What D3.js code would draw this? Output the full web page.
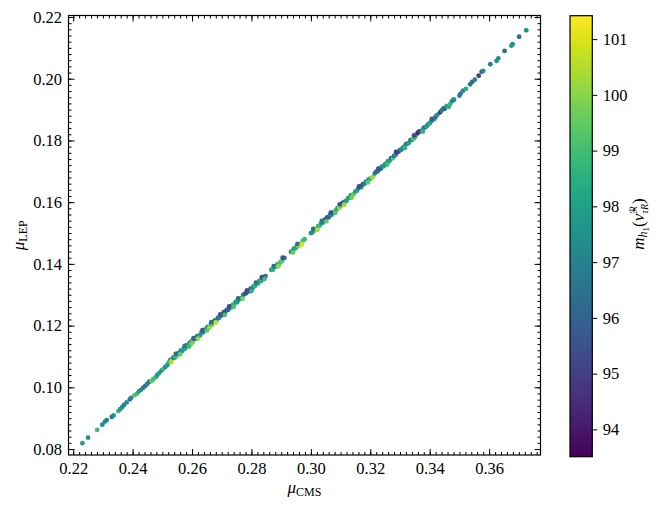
<!DOCTYPE html>
<html><head><meta charset="utf-8">
<script src="https://cdn.jsdelivr.net/npm/d3@7"></script>
<style>body{margin:0;background:#fff}svg{display:block}text{font-family:'Liberation Serif','DejaVu Serif',serif;fill:#000}</style>
</head><body><svg id="c" width="665" height="510"></svg>
<script>
// mu_CMS (x), mu_LEP (y), m_h1 (colour)
const muCMS = [
0.2231,0.2250,0.2281,0.2298,0.2307,0.2313,0.2330,0.2336,0.2352,0.2358,0.2365,0.2371,0.2380,0.2391,0.2395,0.2406,0.2414,0.2421,0.2428,0.2436,0.2443,0.2449,0.2456,0.2463,0.2470,0.2478,0.2483,0.2490,0.2498,0.2503,0.2510,0.2517,0.2522,
0.2527,0.2529,0.2532,0.2537,0.2542,0.2547,0.2552,0.2557,0.2562,0.2567,0.2572,0.2577,0.2582,0.2587,0.2592,0.2597,0.2599,0.2602,0.2607,0.2612,0.2617,0.2622,0.2627,0.2632,0.2637,0.2642,0.2647,0.2652,0.2657,0.2662,0.2664,0.2667,0.2672,0.2677,0.2682,0.2687,0.2692,0.2697,0.2702,0.2707,0.2712,0.2717,0.2722,0.2727,0.2732,0.2737,0.2742,0.2747,0.2752,0.2757,0.2762,0.2767,0.2772,0.2777,0.2782,0.2787,0.2792,0.2797,0.2802,0.2807,0.2812,0.2817,0.2822,
0.2827,0.2832,0.2837,0.2842,0.2847,
0.2867,0.2872,0.2877,0.2882,0.2887,0.2892,0.2897,0.2902,0.2907,0.2911,
0.2933,0.2938,0.2943,0.2948,0.2953,0.2958,0.2963,0.2968,0.2973,0.2979,
0.3000,0.3005,0.3010,0.3015,0.3020,0.3025,0.3030,0.3035,0.3040,0.3045,0.3050,0.3055,0.3060,0.3065,0.3070,0.3075,0.3080,0.3085,0.3090,0.3095,0.3100,0.3105,0.3110,0.3115,0.3120,
0.3125,0.3130,0.3135,0.3140,0.3145,0.3150,0.3155,0.3160,0.3165,0.3170,
0.3175,0.3180,0.3185,0.3190,0.3195,0.3200,0.3205,0.3210,0.3215,0.3220,
0.3225,0.3230,0.3235,0.3240,0.3245,0.3250,0.3255,0.3260,0.3265,0.3270,
0.3275,0.3280,0.3285,0.3290,0.3295,0.3300,0.3305,0.3310,0.3315,0.3320,
0.3325,0.3330,0.3335,0.3340,0.3345,0.3350,0.3355,0.3360,0.3365,0.3370,
0.3375,0.3380,0.3385,0.3390,0.3395,0.3400,0.3405,0.3410,0.3415,0.3420,
0.3426,0.3435,0.3440,0.3446,0.3450,0.3457,0.3464,0.3468,0.3474,0.3479,0.3482,0.3500,0.3504,0.3512,0.3522,0.3536,0.3543,0.3552,0.3565,0.3575,0.3580,0.3604,0.3625,0.3631,0.3652,0.3675,0.3679,0.3701,0.3725,
// edge points of the band
0.2545,0.2560,0.2575,0.2590,0.2605,0.2620,0.2635,0.2650,0.2665,0.2680,0.2695,0.2710,0.2725,0.2740,0.2755,0.2770,0.2785,0.2800,0.2815,
0.2835,0.2844,0.2875,0.2890,0.2905,0.2940,0.2955,0.2970,0.3008,0.3022,0.3037,0.3052,0.3067,0.3082,0.3097,0.3112,
0.3137,0.3162,0.3192,0.3227,0.3257,0.3287,0.3317,0.3347,0.3377,0.3407
];
const muLEP = [
0.0819,0.0837,0.0862,0.0879,0.0889,0.0894,0.0904,0.0909,0.0923,0.0929,0.0936,0.0943,0.0951,0.0961,0.0966,0.0974,0.0979,0.0987,0.0992,0.0999,0.1005,0.1011,0.1018,0.1020,0.1027,0.1033,0.1040,0.1047,0.1055,0.1059,0.1066,0.1072,0.1081,
0.1089,0.1082,0.1086,0.1096,0.1096,0.1100,0.1110,0.1110,0.1119,0.1118,0.1125,0.1126,0.1136,0.1135,0.1144,0.1141,0.1150,0.1146,0.1157,0.1157,0.1166,0.1166,0.1169,0.1179,0.1178,0.1186,0.1187,0.1196,0.1193,0.1197,0.1205,0.1203,0.1212,0.1217,0.1216,0.1225,0.1226,0.1234,0.1234,0.1244,0.1245,0.1251,0.1251,0.1260,0.1259,0.1267,0.1268,0.1277,0.1276,0.1285,0.1287,0.1289,0.1299,0.1303,0.1305,0.1311,0.1311,0.1320,0.1319,0.1327,0.1328,0.1337,0.1336,
0.1345,0.1344,0.1355,0.1357,0.1360,
0.1381,0.1381,0.1390,0.1391,0.1398,0.1398,0.1406,0.1408,0.1418,0.1419,
0.1439,0.1441,0.1449,0.1451,0.1458,0.1458,0.1461,0.1467,0.1475,0.1480,
0.1500,0.1502,0.1509,0.1509,0.1514,0.1522,0.1524,0.1532,0.1534,0.1542,0.1544,0.1551,0.1551,0.1559,0.1559,0.1567,0.1568,0.1575,0.1581,0.1581,0.1586,0.1596,0.1599,0.1602,0.1605,
0.1613,0.1614,0.1623,0.1621,0.1627,0.1635,0.1637,0.1645,0.1650,0.1649,
0.1658,0.1659,0.1666,0.1667,0.1674,0.1676,0.1679,0.1683,0.1693,0.1699,
0.1700,0.1709,0.1708,0.1716,0.1716,0.1723,0.1726,0.1733,0.1734,0.1743,
0.1742,0.1750,0.1753,0.1761,0.1763,0.1769,0.1770,0.1777,0.1779,0.1788,
0.1790,0.1792,0.1801,0.1802,0.1805,0.1810,0.1819,0.1825,0.1829,0.1830,
0.1832,0.1841,0.1843,0.1846,0.1853,0.1855,0.1862,0.1869,0.1869,0.1877,
0.1883,0.1891,0.1897,0.1904,0.1902,0.1911,0.1909,0.1917,0.1926,0.1931,0.1932,0.1945,0.1952,0.1961,0.1967,0.1982,0.1990,0.1997,0.2010,0.2023,0.2025,0.2047,0.2058,0.2066,0.2090,0.2107,0.2112,0.2136,0.2157,
0.1108,0.1107,0.1134,0.1132,0.1159,0.1158,0.1185,0.1184,0.1211,0.1210,0.1236,0.1235,0.1262,0.1261,0.1288,0.1287,0.1314,0.1312,0.1339,
0.1357,0.1351,0.1393,0.1392,0.1420,0.1437,0.1465,0.1464,0.1513,0.1511,0.1539,0.1538,0.1566,0.1565,0.1593,0.1592,
0.1614,0.1651,0.1664,0.1709,0.1722,0.1763,0.1776,0.1816,0.1829,0.1870
];
const mH1 = [
98,97.5,99,97.3,97.5,97,96.5,97.5,98.8,98,97.5,97,97.5,96.5,97,99.2,99,98,97.5,97,96.5,97.3,96.2,99.5,99,98.8,97.5,98,97.3,99,97.5,97.8,98.5,
97.5,100.3,100.5,97.2,98,99.2,97.3,98.2,96.8,97.8,97.4,98.3,97,97.6,96.9,100,97.2,99.8,96.7,97.3,96.5,97.2,97.8,96.6,97.4,96.9,97.6,97.1,99.9,100.5,97.3,99.6,96.8,96.4,97.2,96.5,97,96.2,96.8,95.6,95.9,95.4,96.4,95.7,98.3,97.8,98.6,97.6,98.2,97.2,97.5,97.9,96.9,95.9,95.6,95.8,96.6,95.7,96.9,97.4,98.6,97.5,98.8,
97.5,98.6,95.4,95.8,96.3,
97.2,98.7,97.4,98.2,97.6,99.2,98.9,99.4,96.4,96.8,
97.3,97.8,97.1,98.3,98,99.6,100.6,100.2,99.1,98.8,
97.3,97.7,97.5,99.4,100.1,98.4,98.9,97.8,97.4,95.8,95.4,95.1,96.1,97.2,97.6,97.1,98.9,98.6,97.5,100.2,99.8,94.9,95.3,97.2,97.8,
98.6,97.4,97.2,99.3,99.6,97.5,98.3,96.8,94.3,97.6,
94.9,97.3,96.5,97.8,97.2,98.3,99.8,100.4,97,95.8,
96.6,94.6,96.2,97.3,98,97.4,97.7,97,98.2,95,
99.1,96.4,97.5,95.8,96.1,96.4,97.6,97.2,98.2,96.2,
97.4,98.1,96.8,97.5,99.2,98.9,97.2,94.3,94.6,95.3,
97.4,96.3,96.8,98.2,97.3,98.5,97.5,96.1,97.6,96.5,
97.5,94.8,96.8,97,96,97.8,98.5,98.8,98,96.2,97.5,97,96.8,97.4,98.5,96.5,96.2,97,95,95.5,97.5,97,97.5,97.5,96.5,97.5,97.5,96.5,97.3,
96.3,99.5,96.8,99,96,100.2,95.8,99.4,96.2,100.7,95.5,98.9,95.2,99.2,96.5,99.8,95.3,98.7,96.6,
95.2,99,96.5,100,95.8,99.6,96.4,100.9,96.2,100.4,96.7,99.5,95.4,99.3,95.6,100.3,
99.8,95.5,99.5,95.9,99,94.8,98.8,95.6,98.6,96
];
const xTicks = [0.22,0.24,0.26,0.28,0.30,0.32,0.34,0.36];
const yTicks = [0.08,0.10,0.12,0.14,0.16,0.18,0.20,0.22];
const cTicks = [94,95,96,97,98,99,100,101];

const svg = d3.select('#c');
const L=68.5,R=540.5,T=15.5,B=455;
const x = d3.scaleLinear().domain([0.21842,0.37729]).range([L,R]);
const y = d3.scaleLinear().domain([0.07807,0.22049]).range([B,T]);
const cDom = [93.51,101.42];
const color = d3.scaleSequential(d3.interpolateViridis).domain(cDom);

// points
svg.append('g').selectAll('circle').data(d3.range(muCMS.length)).join('circle')
  .attr('cx',i=>x(muCMS[i])).attr('cy',i=>y(muLEP[i])).attr('r',2.4)
  .attr('fill',i=>color(mH1[i]));

const fmt = d3.format('.2f');
const FS = 16.5;
function styleAxis(g){ g.select('.domain').remove(); g.selectAll('line').attr('stroke','#000').attr('stroke-width',1); g.selectAll('text').attr('font-size',FS).attr('font-family',"'Liberation Serif',serif"); }
const xMinor = x.ticks(80), yMinor = y.ticks(70);
// bottom
svg.append('g').attr('transform',`translate(0,${B})`).call(d3.axisBottom(x).tickValues(xMinor).tickSize(-3).tickFormat('')).call(styleAxis);
svg.append('g').attr('transform',`translate(0,${B})`).call(d3.axisBottom(x).tickValues(xTicks).tickSize(-6).tickPadding(7.6).tickFormat(fmt)).call(styleAxis);
// top
svg.append('g').attr('transform',`translate(0,${T})`).call(d3.axisTop(x).tickValues(xMinor).tickSize(-3).tickFormat('')).call(styleAxis);
svg.append('g').attr('transform',`translate(0,${T})`).call(d3.axisTop(x).tickValues(xTicks).tickSize(-6).tickFormat('')).call(styleAxis);
// left
svg.append('g').attr('transform',`translate(${L},0)`).call(d3.axisLeft(y).tickValues(yMinor).tickSize(-3).tickFormat('')).call(styleAxis);
svg.append('g').attr('transform',`translate(${L},0)`).call(d3.axisLeft(y).tickValues(yTicks).tickSize(-6).tickPadding(6.5).tickFormat(fmt)).call(styleAxis);
// right
svg.append('g').attr('transform',`translate(${R},0)`).call(d3.axisRight(y).tickValues(yMinor).tickSize(-3).tickFormat('')).call(styleAxis);
svg.append('g').attr('transform',`translate(${R},0)`).call(d3.axisRight(y).tickValues(yTicks).tickSize(-6).tickFormat('')).call(styleAxis);
// frame
svg.append('rect').attr('x',L).attr('y',T).attr('width',R-L).attr('height',B-T)
  .attr('fill','none').attr('stroke','#000').attr('stroke-width',1.2);

// axis labels
const xl = svg.append('text').attr('x',(L+R)/2).attr('y',493).attr('text-anchor','middle').attr('font-size',17);
xl.append('tspan').attr('font-style','italic').text('μ');
xl.append('tspan').attr('font-size',12).attr('dy',3).text('CMS');
const yl = svg.append('text').attr('transform',`translate(24,${(T+B)/2}) rotate(-90)`).attr('text-anchor','middle').attr('font-size',17);
yl.append('tspan').attr('font-style','italic').text('μ');
yl.append('tspan').attr('font-size',12).attr('dy',3).text('LEP');

// colorbar
const CX0=570, CX1=592.3, CY0=15.7, CY1=456.7;
const cy = d3.scaleLinear().domain(cDom).range([CY1,CY0]);
const defs = svg.append('defs');
const grad = defs.append('linearGradient').attr('id','vir').attr('x1',0).attr('y1',1).attr('x2',0).attr('y2',0);
d3.range(0,1.0001,0.025).forEach(t=>grad.append('stop').attr('offset',t).attr('stop-color',d3.interpolateViridis(t)));
svg.append('rect').attr('x',CX0).attr('y',CY0).attr('width',CX1-CX0).attr('height',CY1-CY0)
  .attr('fill','url(#vir)').attr('stroke','#000').attr('stroke-width',1.2);
svg.append('g').attr('transform',`translate(${CX1},0)`).call(d3.axisRight(cy).tickValues(cTicks).tickSize(5).tickPadding(5.4).tickFormat(d3.format('d'))).call(styleAxis);

// colorbar label m_{h1}(nu~^R_{tau R})
const cl = svg.append('text').attr('transform',`translate(644,224) rotate(-90)`).attr('text-anchor','middle').attr('font-size',17);
cl.append('tspan').attr('font-style','italic').text('m');
cl.append('tspan').attr('font-style','italic').attr('font-size',12).attr('dy',3).text('h');
cl.append('tspan').attr('font-size',9).attr('dy',2).text('1');
cl.append('tspan').attr('dy',-5).text('(');
cl.append('tspan').attr('font-style','italic').text('ν̃');
cl.append('tspan').attr('font-size',10).attr('font-family',"'DejaVu Serif','DejaVu Sans',serif").attr('dy',-7).text('ℛ');
cl.append('tspan').attr('font-style','italic').attr('font-size',10).attr('dx',-8).attr('dy',11).text('τR');
cl.append('tspan').attr('dy',-4).text(')');
</script></body></html>
